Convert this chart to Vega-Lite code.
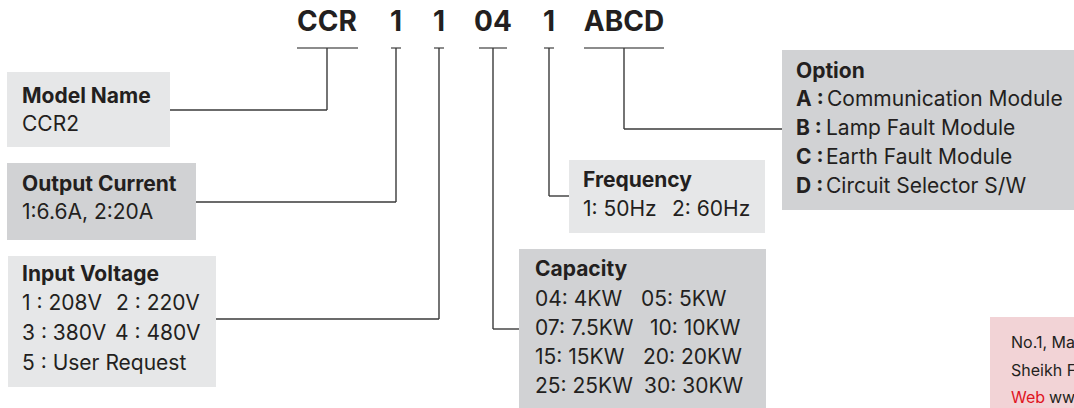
{
  "$schema": "https://vega.github.io/schema/vega-lite/v6.json",
  "width": 1074,
  "height": 408,
  "padding": 0,
  "autosize": {"type": "none"},
  "background": "white",
  "config": {"view": {"stroke": null}, "text": {"font": "Inter"}},
  "datasets": {
    "boxes": [
      {"x1": 7, "y1": 72, "x2": 170, "y2": 147, "fill": "#e6e7e8"},
      {"x1": 7, "y1": 163, "x2": 196, "y2": 240, "fill": "#d1d2d4"},
      {"x1": 8, "y1": 256, "x2": 216, "y2": 387, "fill": "#e6e7e8"},
      {"x1": 569, "y1": 160, "x2": 765, "y2": 233, "fill": "#e6e7e8"},
      {"x1": 519, "y1": 249, "x2": 766, "y2": 408, "fill": "#d1d2d4"},
      {"x1": 782, "y1": 50, "x2": 1074, "y2": 210, "fill": "#d1d2d4"},
      {"x1": 990, "y1": 317, "x2": 1074, "y2": 408, "fill": "#f2d3d6"}
    ],
    "lines": [
      {"x1": 297, "y1": 48, "x2": 358, "y2": 48, "kind": "under"},
      {"x1": 391, "y1": 48, "x2": 401, "y2": 48, "kind": "under"},
      {"x1": 434, "y1": 48, "x2": 444, "y2": 48, "kind": "under"},
      {"x1": 479, "y1": 48, "x2": 507, "y2": 48, "kind": "under"},
      {"x1": 544, "y1": 48, "x2": 554, "y2": 48, "kind": "under"},
      {"x1": 584, "y1": 48, "x2": 664, "y2": 48, "kind": "under"},
      {"x1": 327, "y1": 48, "x2": 327, "y2": 110, "kind": "link"},
      {"x1": 170, "y1": 110, "x2": 327, "y2": 110, "kind": "link"},
      {"x1": 396, "y1": 48, "x2": 396, "y2": 202, "kind": "link"},
      {"x1": 196, "y1": 202, "x2": 396, "y2": 202, "kind": "link"},
      {"x1": 439, "y1": 48, "x2": 439, "y2": 319, "kind": "link"},
      {"x1": 216, "y1": 319, "x2": 439, "y2": 319, "kind": "link"},
      {"x1": 493, "y1": 48, "x2": 493, "y2": 329, "kind": "link"},
      {"x1": 493, "y1": 329, "x2": 519, "y2": 329, "kind": "link"},
      {"x1": 549, "y1": 48, "x2": 549, "y2": 196, "kind": "link"},
      {"x1": 549, "y1": 196, "x2": 569, "y2": 196, "kind": "link"},
      {"x1": 624, "y1": 48, "x2": 624, "y2": 129, "kind": "link"},
      {"x1": 624, "y1": 129, "x2": 782, "y2": 129, "kind": "link"}
    ],
    "codes": [
      {"x": 327, "y": 23, "t": "CCR"},
      {"x": 396, "y": 23, "t": "1"},
      {"x": 439, "y": 23, "t": "1"},
      {"x": 493, "y": 23, "t": "04"},
      {"x": 549, "y": 23, "t": "1"},
      {"x": 624, "y": 23, "t": "ABCD"}
    ],
    "labels": [
      {"x": 22, "y": 97, "t": "Model Name", "w": "bold", "s": 21, "c": "#231f20"},
      {"x": 22, "y": 125, "t": "CCR2", "w": "normal", "s": 21, "c": "#231f20"},
      {"x": 22, "y": 185, "t": "Output Current", "w": "bold", "s": 21, "c": "#231f20"},
      {"x": 22, "y": 213, "t": "1:6.6A, 2:20A", "w": "normal", "s": 21, "c": "#231f20"},
      {"x": 22, "y": 275, "t": "Input Voltage", "w": "bold", "s": 21, "c": "#231f20"},
      {"x": 22, "y": 304, "t": "1 : 208V", "w": "normal", "s": 21, "c": "#231f20"},
      {"x": 116, "y": 304, "t": "2 : 220V", "w": "normal", "s": 21, "c": "#231f20"},
      {"x": 22, "y": 334, "t": "3 : 380V", "w": "normal", "s": 21, "c": "#231f20"},
      {"x": 115, "y": 334, "t": "4 : 480V", "w": "normal", "s": 21, "c": "#231f20"},
      {"x": 22, "y": 364, "t": "5 : User Request", "w": "normal", "s": 21, "c": "#231f20"},
      {"x": 583, "y": 181, "t": "Frequency", "w": "bold", "s": 21, "c": "#231f20"},
      {"x": 583, "y": 210, "t": "1: 50Hz", "w": "normal", "s": 21, "c": "#231f20"},
      {"x": 672, "y": 210, "t": "2: 60Hz", "w": "normal", "s": 21, "c": "#231f20"},
      {"x": 535, "y": 270, "t": "Capacity", "w": "bold", "s": 21, "c": "#231f20"},
      {"x": 535, "y": 300, "t": "04: 4KW", "w": "normal", "s": 21, "c": "#231f20"},
      {"x": 641, "y": 300, "t": "05: 5KW", "w": "normal", "s": 21, "c": "#231f20"},
      {"x": 535, "y": 329, "t": "07: 7.5KW", "w": "normal", "s": 21, "c": "#231f20"},
      {"x": 650, "y": 329, "t": "10: 10KW", "w": "normal", "s": 21, "c": "#231f20"},
      {"x": 535, "y": 358, "t": "15: 15KW", "w": "normal", "s": 21, "c": "#231f20"},
      {"x": 643, "y": 358, "t": "20: 20KW", "w": "normal", "s": 21, "c": "#231f20"},
      {"x": 535, "y": 387, "t": "25: 25KW", "w": "normal", "s": 21, "c": "#231f20"},
      {"x": 644, "y": 387, "t": "30: 30KW", "w": "normal", "s": 21, "c": "#231f20"},
      {"x": 796, "y": 72, "t": "Option", "w": "bold", "s": 21, "c": "#231f20"},
      {"x": 796, "y": 100, "t": "A :", "w": "bold", "s": 21, "c": "#231f20"},
      {"x": 827, "y": 100, "t": "Communication Module", "w": "normal", "s": 21, "c": "#231f20"},
      {"x": 796, "y": 129, "t": "B :", "w": "bold", "s": 21, "c": "#231f20"},
      {"x": 826, "y": 129, "t": "Lamp Fault Module", "w": "normal", "s": 21, "c": "#231f20"},
      {"x": 796, "y": 158, "t": "C :", "w": "bold", "s": 21, "c": "#231f20"},
      {"x": 826, "y": 158, "t": "Earth Fault Module", "w": "normal", "s": 21, "c": "#231f20"},
      {"x": 796, "y": 187, "t": "D :", "w": "bold", "s": 21, "c": "#231f20"},
      {"x": 826, "y": 187, "t": "Circuit Selector S/W", "w": "normal", "s": 21, "c": "#231f20"},
      {"x": 1011, "y": 343, "t": "No.1, Ma", "w": "normal", "s": 16, "c": "#231f20"},
      {"x": 1011, "y": 371, "t": "Sheikh F", "w": "normal", "s": 16, "c": "#231f20"},
      {"x": 1011, "y": 398, "t": "Web", "w": "normal", "s": 16, "c": "#e0151f"},
      {"x": 1049, "y": 398, "t": "ww", "w": "normal", "s": 16, "c": "#231f20"}
    ]
  },
  "layer": [
    {
      "data": {"name": "boxes"},
      "mark": {"type": "rect"},
      "encoding": {
        "x": {"field": "x1", "type": "quantitative", "scale": {"domain": [0, 1074], "nice": false, "zero": false}, "axis": null},
        "x2": {"field": "x2"},
        "y": {"field": "y1", "type": "quantitative", "scale": {"domain": [0, 408], "nice": false, "zero": false, "reverse": true}, "axis": null},
        "y2": {"field": "y2"},
        "color": {"field": "fill", "type": "nominal", "scale": null}
      }
    },
    {
      "data": {"name": "lines"},
      "transform": [{"filter": "datum.kind === 'under'"}],
      "mark": {"type": "rule", "color": "#8c8c8c", "strokeWidth": 2},
      "encoding": {
        "x": {"field": "x1", "type": "quantitative", "axis": null},
        "x2": {"field": "x2"},
        "y": {"field": "y1", "type": "quantitative", "axis": null},
        "y2": {"field": "y2"}
      }
    },
    {
      "data": {"name": "lines"},
      "transform": [{"filter": "datum.kind === 'link'"}],
      "mark": {"type": "rule", "color": "#3a3a3a", "strokeWidth": 1.4},
      "encoding": {
        "x": {"field": "x1", "type": "quantitative", "axis": null},
        "x2": {"field": "x2"},
        "y": {"field": "y1", "type": "quantitative", "axis": null},
        "y2": {"field": "y2"}
      }
    },
    {
      "data": {"name": "codes"},
      "mark": {"type": "text", "fontWeight": "bold", "fontSize": 28, "align": "center", "baseline": "middle", "color": "#231f20"},
      "encoding": {
        "x": {"field": "x", "type": "quantitative", "axis": null},
        "y": {"field": "y", "type": "quantitative", "axis": null},
        "text": {"field": "t"}
      }
    },
    {
      "data": {"name": "labels"},
      "transform": [{"filter": "datum.w === 'bold'"}],
      "mark": {"type": "text", "fontWeight": "bold", "align": "left", "baseline": "middle"},
      "encoding": {
        "x": {"field": "x", "type": "quantitative", "axis": null},
        "y": {"field": "y", "type": "quantitative", "axis": null},
        "text": {"field": "t"},
        "size": {"field": "s", "type": "quantitative", "scale": null},
        "color": {"field": "c", "type": "nominal", "scale": null}
      }
    },
    {
      "data": {"name": "labels"},
      "transform": [{"filter": "datum.w === 'normal'"}],
      "mark": {"type": "text", "fontWeight": "normal", "align": "left", "baseline": "middle"},
      "encoding": {
        "x": {"field": "x", "type": "quantitative", "axis": null},
        "y": {"field": "y", "type": "quantitative", "axis": null},
        "text": {"field": "t"},
        "size": {"field": "s", "type": "quantitative", "scale": null},
        "color": {"field": "c", "type": "nominal", "scale": null}
      }
    }
  ]
}
